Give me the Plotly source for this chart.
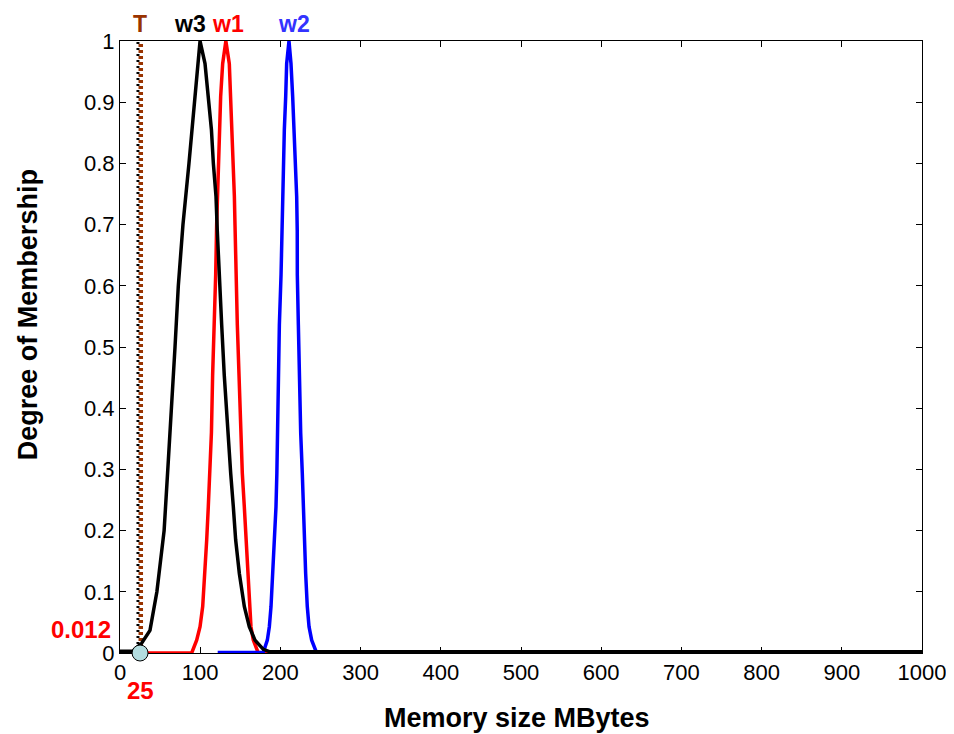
import plotly.graph_objects as go

# ---- data ----
w3_x = [0, 16, 27, 37.4, 46, 55, 60.3, 64.4, 68.6, 72.7, 78.5, 86, 92.7, 99.8,
        106, 110, 114, 116.4, 119.7, 121.3, 123.4, 126.8, 130, 133.8, 136, 138,
        141.3, 144.2, 148.8, 155, 161.2, 168.3, 178.7, 187, 1000]
w3_y = [0.003, 0.003, 0.016, 0.037, 0.1, 0.2, 0.315, 0.4, 0.5, 0.6, 0.7, 0.8, 0.9, 1.0,
        0.963, 0.909, 0.855, 0.80, 0.746, 0.69, 0.618, 0.536, 0.454, 0.373, 0.34, 0.294,
        0.239, 0.185, 0.130, 0.076, 0.043, 0.021, 0.006, 0.002, 0.002]

w1_x = [0, 89.4, 95.6, 99.8, 103.1, 106, 108.1, 110.1, 112.2, 114, 115.5, 117.6,
        119.3, 120.5, 121.8, 122.6, 123.8, 125.5, 128, 132, 136.3, 138, 140, 141.3,
        142.6, 143.4, 144.6, 146.3, 148.4, 150.4, 152.5, 155, 157.1, 159.2, 161.2,
        163.3, 166.2, 172.4, 1000]
w1_y = [0, 0, 0.021, 0.043, 0.076, 0.130, 0.185, 0.239, 0.294, 0.36, 0.454, 0.536,
        0.618, 0.699, 0.746, 0.80, 0.855, 0.909, 0.963, 1.0, 0.963, 0.909, 0.855, 0.80,
        0.746, 0.699, 0.618, 0.536, 0.454, 0.36, 0.294, 0.239, 0.185, 0.130, 0.076,
        0.043, 0.021, 0.0, 0.0]

w2_x = [0, 124, 124, 178.7, 183.7, 186.2, 188.3, 190.4, 192.4, 194.5, 195.6, 196.2,
        197.4, 198.7, 200.8, 201.8, 202.8, 203.7, 204.9, 206.6, 207.8, 210.7, 213.2,
        215.3, 217.3, 219, 220.3, 221, 221.1, 222.4, 223.6, 225.3, 227.3, 228.6,
        229.8, 231.5, 233.5, 235.7, 239, 245.2, 1000]
w2_y = [-0.003, -0.003, 0.001, 0.001, 0.021, 0.043, 0.076, 0.130, 0.185, 0.239, 0.294,
        0.36, 0.454, 0.536, 0.618, 0.69, 0.746, 0.80, 0.855, 0.909, 0.963, 1.0, 0.963,
        0.909, 0.855, 0.80, 0.746, 0.69, 0.618, 0.536, 0.454, 0.36, 0.294, 0.239,
        0.185, 0.130, 0.076, 0.043, 0.021, 0.0, 0.0]

T_value = 25
T_membership = 0.012
x_ticks = [0, 100, 200, 300, 400, 500, 600, 700, 800, 900, 1000]
y_ticks = [0, 0.1, 0.2, 0.3, 0.4, 0.5, 0.6, 0.7, 0.8, 0.9, 1]
y_tick_text = ["0", "0.1", "0.2", "0.3", "0.4", "0.5", "0.6", "0.7", "0.8", "0.9", "1"]

BROWN = "#993300"
FAM = "Arial, Liberation Sans, Helvetica, sans-serif"
fig = go.Figure()

# threshold T: brown squares alternating with black dots
fig.add_trace(go.Scatter(x=[T_value + 0.9, T_value + 0.9], y=[0, 1], mode="lines",
                         line=dict(color=BROWN, width=4.5, dash="3px,3px"),
                         hoverinfo="skip", showlegend=False))
fig.add_trace(go.Scatter(x=[T_value - 2.6, T_value - 2.6], y=[0.005, 1], mode="lines",
                         line=dict(color="black", width=3, dash="2px,4px"),
                         hoverinfo="skip", showlegend=False))

fig.add_trace(go.Scatter(x=w1_x, y=w1_y, mode="lines", name="w1",
                         line=dict(color="#ff0000", width=3.5), showlegend=False))
fig.add_trace(go.Scatter(x=w2_x, y=w2_y, mode="lines", name="w2",
                         line=dict(color="#0000ff", width=3.5), showlegend=False))
fig.add_trace(go.Scatter(x=w3_x, y=w3_y, mode="lines", name="w3",
                         line=dict(color="black", width=3.5), showlegend=False))

fig.add_trace(go.Scatter(x=[T_value], y=[0], mode="markers", cliponaxis=False,
                         marker=dict(size=16, color="#b3dde0",
                                     line=dict(color="black", width=1)),
                         showlegend=False))

ann = []
for txt, xv, col in [("T", T_value, BROWN), ("w3", 87, "black"),
                     ("w1", 135, "#ff0000"), ("w2", 217, "#3333ff")]:
    ann.append(dict(text="<b>%s</b>" % txt, x=xv, xref="x", y=1.0, yref="paper",
                    yshift=2, showarrow=False, font=dict(family=FAM, size=23, color=col),
                    xanchor="center", yanchor="bottom"))
ann.append(dict(text="<b>%s</b>" % T_membership, x=-0.009, xref="paper", y=0.039,
                yref="paper", showarrow=False, xanchor="right", yanchor="middle",
                font=dict(family=FAM, size=24, color="#ff0000")))
ann.append(dict(text="<b>%d</b>" % T_value, x=T_value, xref="x", y=-0.062,
                yref="paper", showarrow=False, xanchor="center", yanchor="middle",
                font=dict(family=FAM, size=24, color="#ff0000")))
ann.append(dict(text="<b>Memory size MBytes</b>", x=0.495, xref="paper", y=-0.106,
                yref="paper", showarrow=False, xanchor="center", yanchor="middle",
                font=dict(family=FAM, size=27, color="black")))
ann.append(dict(text="<b>Degree of Membership</b>", x=-0.1147, xref="paper", y=0.552,
                yref="paper", showarrow=False, xanchor="center", yanchor="middle",
                textangle=-90, font=dict(family=FAM, size=27, color="black")))

axis_common = dict(showgrid=False, zeroline=False, showline=True, linecolor="black",
                   linewidth=1, mirror="ticks", ticks="inside", ticklen=6,
                   tickcolor="black", layer="below traces",
                   tickfont=dict(family=FAM, size=22, color="black"))

# the page adds an 8px body margin, so margins are shifted to keep the plot
# area at the reference's pixel position
fig.update_layout(
    width=954, height=734,
    margin=dict(l=112, r=40, t=33, b=89),
    paper_bgcolor="white", plot_bgcolor="white",
    annotations=ann,
    xaxis=dict(axis_common, range=[0, 1000], tickvals=x_ticks),
    yaxis=dict(axis_common, range=[0, 1], tickvals=y_ticks, ticktext=y_tick_text),
)

fig.write_html("out.html")
